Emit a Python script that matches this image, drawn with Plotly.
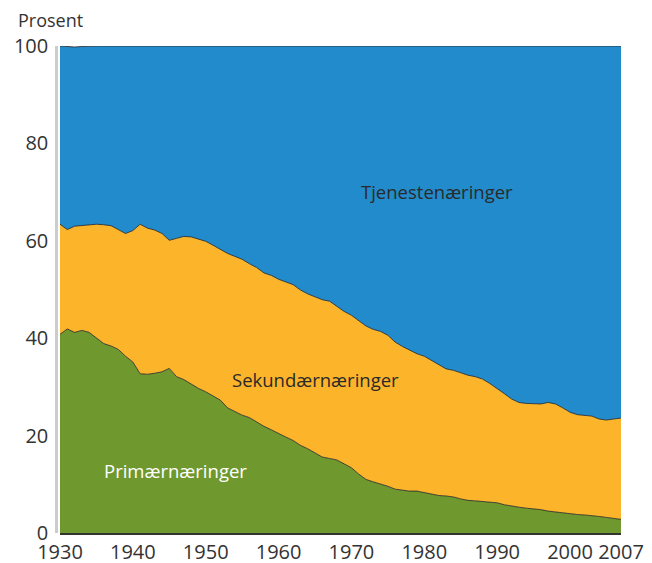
import plotly.graph_objects as go

years = list(range(1930, 2008))

primaer = [40.8, 41.9, 41.2, 41.6, 41.2, 40.1, 38.9, 38.4, 37.7, 36.3,
           35.1, 32.7, 32.6, 32.8, 33.1, 33.8, 32.1, 31.5, 30.6, 29.7,
           29.0, 28.2, 27.3, 25.7, 24.9, 24.2, 23.7, 22.8, 21.9, 21.2,
           20.4, 19.7, 19.0, 18.0, 17.3, 16.4, 15.6, 15.3, 15.0, 14.2,
           13.4, 12.1, 11.0, 10.5, 10.1, 9.6, 9.0, 8.8, 8.6, 8.6,
           8.3, 8.1, 7.7, 7.6, 7.4, 7.0, 6.7, 6.6, 6.5, 6.4,
           6.2, 5.8, 5.5, 5.3, 5.1, 5.0, 4.8, 4.5, 4.3, 4.2,
           4.0, 3.8, 3.7, 3.6, 3.4, 3.2, 3.0, 2.8]

sekundaer = [22.6, 20.4, 21.8, 21.5, 22.1, 23.3, 24.4, 24.7, 24.6, 25.2,
             27.0, 30.7, 30.0, 29.4, 28.4, 26.3, 28.4, 29.4, 30.2, 30.6,
             30.9, 30.9, 30.9, 31.7, 31.9, 32.0, 31.6, 31.7, 31.5, 31.7,
             31.7, 31.8, 32.0, 31.9, 31.8, 32.1, 32.3, 32.3, 31.6, 31.3,
             31.3, 31.5, 31.5, 31.3, 31.3, 31.0, 30.2, 29.5, 28.9, 28.2,
             28.0, 27.3, 26.8, 26.1, 26.0, 25.9, 25.7, 25.5, 25.1, 24.3,
             23.5, 22.8, 22.0, 21.5, 21.5, 21.6, 21.7, 22.3, 22.2, 21.5,
             20.8, 20.5, 20.4, 20.4, 20.0, 20.0, 20.4, 20.8]

tertiaer = [36.6, 37.6, 36.8, 36.8, 36.7, 36.6, 36.7, 36.9, 37.7, 38.5,
            37.9, 36.6, 37.4, 37.8, 38.5, 39.9, 39.5, 39.1, 39.2, 39.7,
            40.1, 40.9, 41.8, 42.6, 43.2, 43.8, 44.7, 45.5, 46.6, 47.1,
            47.9, 48.5, 49.0, 50.1, 50.9, 51.5, 52.1, 52.4, 53.4, 54.5,
            55.3, 56.4, 57.5, 58.2, 58.6, 59.4, 60.8, 61.7, 62.5, 63.2,
            63.7, 64.6, 65.5, 66.3, 66.6, 67.1, 67.6, 67.9, 68.4, 69.3,
            70.3, 71.4, 72.5, 73.2, 73.4, 73.4, 73.5, 73.2, 73.5, 74.3,
            75.2, 75.7, 75.9, 76.0, 76.6, 76.8, 76.6, 76.4]

x_ticks = [1930, 1940, 1950, 1960, 1970, 1980, 1990, 2000, 2007]
y_ticks = [0, 20, 40, 60, 80, 100]

series = [
    ("Primærnæringer", primaer, "#6f982e"),
    ("Sekundærnæringer", sekundaer, "#fcb52b"),
    ("Tjenestenæringer", tertiaer, "#228bcb"),
]

FONT = "Open Sans"
fig = go.Figure()
for name, vals, col in series:
    fig.add_trace(go.Scatter(
        x=years, y=vals, name=name, mode="lines", stackgroup="one",
        line=dict(color="#222222", width=0.8), fillcolor=col,
        hoverinfo="x+y+name",
    ))

fig.update_layout(
    width=652, height=563,
    margin=dict(l=56, r=31, t=46, b=30, autoexpand=False),
    paper_bgcolor="white", plot_bgcolor="white",
    showlegend=False,
    font=dict(family=FONT, color="#333333"),
    xaxis=dict(
        domain=[4 / 565, 1], range=[1930, 2007], tickvals=x_ticks,
        showgrid=False, zeroline=False, ticks="", automargin=False,
        showline=True, linecolor="#333333", linewidth=1.5,
        ticklabelstandoff=0,
        tickfont=dict(size=20, color="#333333"),
    ),
    yaxis=dict(
        range=[0, 100], tickvals=y_ticks, anchor="free", position=0,
        showline=True, linecolor="#cccccc", linewidth=2.5, automargin=False,
        showgrid=True, gridcolor="#d6d6d6", zeroline=False, ticks="",
        ticklabelstandoff=3,
        tickfont=dict(size=20, color="#333333"),
    ),
    yaxis2=dict(
        range=[0, 100], tickvals=y_ticks, overlaying="y", side="right",
        anchor="x", showline=True, linecolor="#555555", linewidth=1.5,
        ticks="outside", ticklen=4, tickwidth=2, tickcolor="#cccccc",
        showticklabels=False, showgrid=False, zeroline=False, automargin=False,
    ),
    yaxis3=dict(
        range=[0, 100], overlaying="y", side="left", anchor="x",
        showline=True, linecolor="#333333", linewidth=1, automargin=False,
        ticks="", showticklabels=False, showgrid=False, zeroline=False,
    ),
    annotations=[
        dict(text="Prosent", xref="paper", yref="paper", x=-0.0708, y=1.0534,
             xanchor="left", yanchor="middle", showarrow=False,
             font=dict(size=18, color="#333333")),
        dict(text="Tjenestenæringer", x=1981.7, y=70.2, showarrow=False,
             font=dict(size=18.5, color="#2a2a2a")),
        dict(text="Sekundærnæringer", x=1965.1, y=31.5, showarrow=False,
             font=dict(size=18.5, color="#2a2a2a")),
        dict(text="Primærnæringer", x=1945.9, y=12.8, showarrow=False,
             font=dict(size=18.5, color="#ffffff")),
    ],
)

fig.write_html(
    "out.html",
    config={"displayModeBar": False},
    post_script="document.body.style.margin='0';document.body.style.overflow='hidden';",
)
